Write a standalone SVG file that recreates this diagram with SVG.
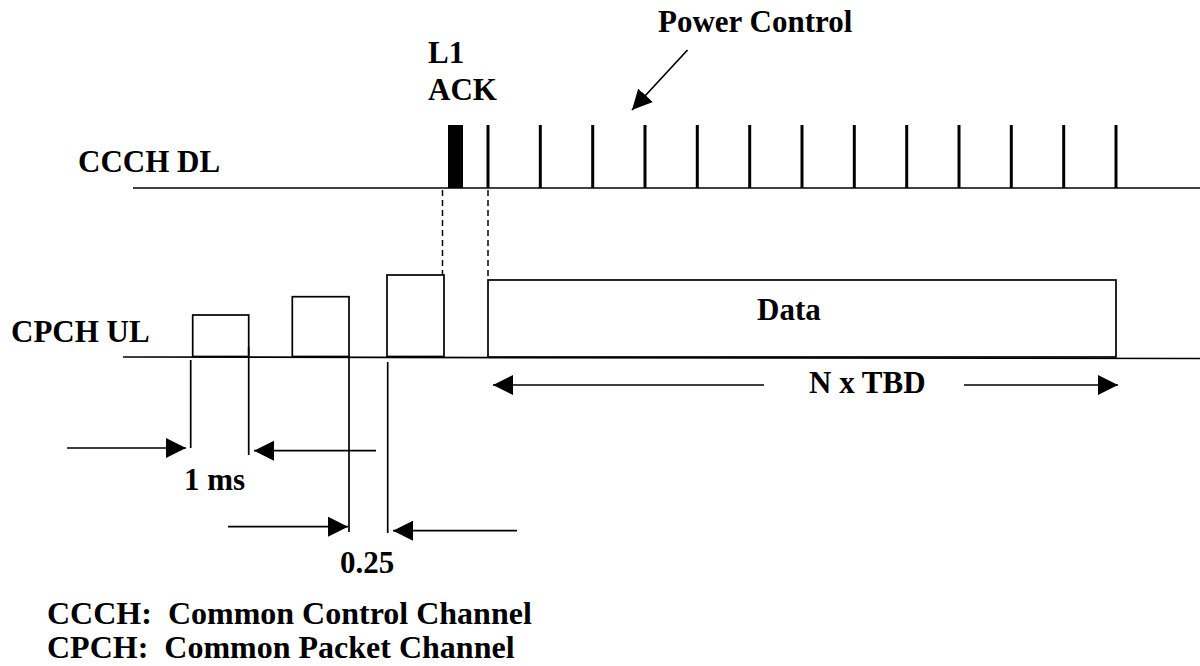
<svg xmlns="http://www.w3.org/2000/svg" width="1200" height="666" viewBox="0 0 1200 666">
<style>
text{font-family:"Liberation Serif","Times New Roman",serif;font-weight:bold;font-size:31px;fill:#000}
.legend{font-size:32px}
.ln{stroke:#000;stroke-width:1.7;fill:none}
.box{stroke:#000;stroke-width:1.7;fill:#fff}
.tick{stroke:#000;stroke-width:3}
.dash{stroke:#000;stroke-width:1.5;stroke-dasharray:6 4;fill:none}
.arr{stroke:#000;stroke-width:1.7;fill:none;marker-end:url(#ah)}
</style>
<defs>
<marker id="ah" markerUnits="userSpaceOnUse" markerWidth="20" markerHeight="20" refX="20" refY="10" orient="auto" viewBox="0 0 20 20">
<path d="M0,0 L20,10 L0,20 z" fill="#000"/>
</marker>
</defs>
<rect width="1200" height="666" fill="#fff"/>

<g id="ccch-dl">
<text x="78" y="172">CCCH DL</text>
<line class="ln" x1="133" y1="188" x2="1200" y2="188"/>
</g>

<g id="l1-ack">
<text x="428" y="63">L1</text>
<text x="428" y="100">ACK</text>
<rect x="448" y="125" width="15" height="63" fill="#000"/>
</g>

<g id="power-control">
<text x="658" y="32">Power Control</text>
<g class="tick">
<line x1="488" y1="125" x2="488" y2="188"/>
<line x1="540.3" y1="125" x2="540.3" y2="188"/>
<line x1="592.7" y1="125" x2="592.7" y2="188"/>
<line x1="645" y1="125" x2="645" y2="188"/>
<line x1="697.3" y1="125" x2="697.3" y2="188"/>
<line x1="749.7" y1="125" x2="749.7" y2="188"/>
<line x1="802" y1="125" x2="802" y2="188"/>
<line x1="854.3" y1="125" x2="854.3" y2="188"/>
<line x1="906.7" y1="125" x2="906.7" y2="188"/>
<line x1="959" y1="125" x2="959" y2="188"/>
<line x1="1011.3" y1="125" x2="1011.3" y2="188"/>
<line x1="1063.7" y1="125" x2="1063.7" y2="188"/>
<line x1="1116" y1="125" x2="1116" y2="188"/>
</g>
</g>

<g id="cpch-ul">
<text x="11" y="342">CPCH UL</text>
<line class="ln" x1="123" y1="357" x2="1200" y2="358.5"/>
</g>

<g id="preamble-1"><rect class="box" x="192.7" y="315" width="56" height="41.5"/></g>
<g id="preamble-2"><rect class="box" x="292.3" y="296.7" width="56.7" height="59.8"/></g>
<g id="preamble-3"><rect class="box" x="387" y="275" width="57" height="81.5"/></g>

<g id="data">
<rect class="box" x="488" y="280" width="628" height="77"/>
<text x="757" y="320">Data</text>
</g>

<g id="connectors">
<line class="dash" x1="442.5" y1="190" x2="442.5" y2="275"/>
<line class="dash" x1="488" y1="190" x2="488" y2="280"/>
<line class="arr" x1="687.5" y1="50" x2="632" y2="110"/>
<line class="ln" x1="190.7" y1="360" x2="190.7" y2="448"/>
<line class="ln" x1="248.7" y1="347" x2="248.7" y2="455"/>
<line class="ln" x1="349" y1="356" x2="349" y2="532"/>
<line class="ln" x1="387.7" y1="362" x2="387.7" y2="533"/>
<line class="arr" x1="67" y1="448" x2="186" y2="448"/>
<line class="arr" x1="376" y1="450.7" x2="254" y2="450.7"/>
<line class="arr" x1="228" y1="526.7" x2="348" y2="526.7"/>
<line class="arr" x1="517" y1="530.7" x2="393" y2="530.7"/>
<line class="arr" x1="764" y1="385" x2="493" y2="385"/>
<line class="arr" x1="964" y1="385" x2="1118" y2="385"/>
</g>

<g id="labels">
<text x="809" y="393">N x TBD</text>
<text x="184" y="490">1 ms</text>
<text x="340" y="573">0.25</text>
</g>

<g id="legend">
<text class="legend" x="47" y="624" xml:space="preserve">CCCH:  Common Control Channel</text>
<text class="legend" x="47" y="658" xml:space="preserve">CPCH:  Common Packet Channel</text>
</g>
</svg>
